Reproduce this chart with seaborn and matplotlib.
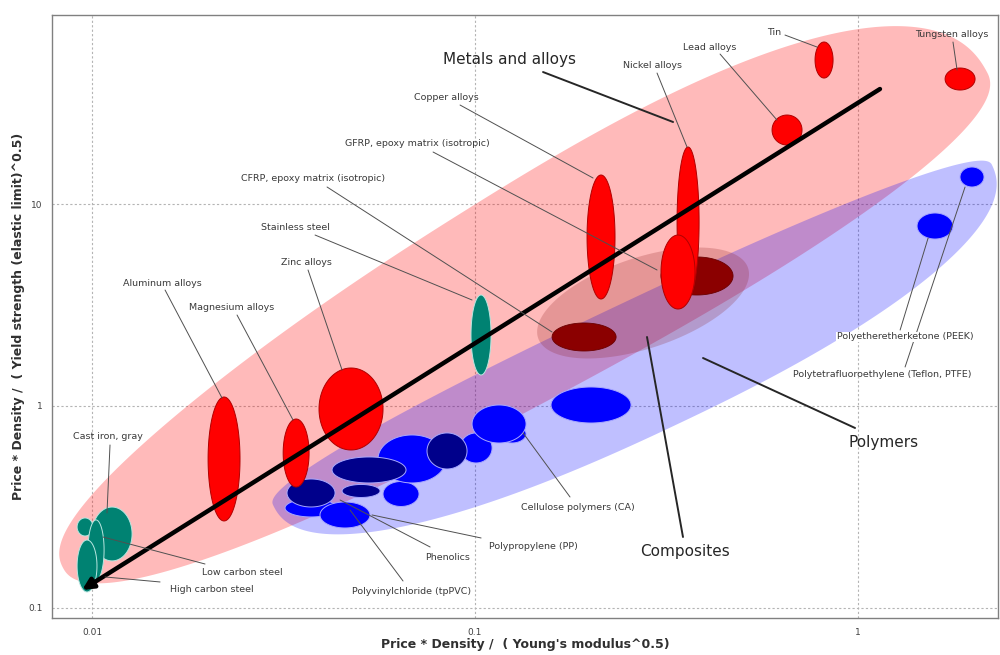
import numpy as np
import matplotlib
matplotlib.use("Agg")
import matplotlib.pyplot as plt
from matplotlib.ticker import LogLocator, FuncFormatter, NullFormatter
import seaborn as sns

# ---------------------------------------------------------------------------
# Property ranges, x = Price*Density/E^0.5, y = Price*Density/sigma_y^0.5
# each bubble spans [lo, hi] on both axes
# ---------------------------------------------------------------------------
nonferrous_names = ["Aluminum alloys", "Magnesium alloys", "Zinc alloys", "Copper alloys",
                    "Nickel alloys", "Nickel alloys (cast)", "Lead alloys", "Tin", "Tungsten alloys"]
nonferrous_x_lo = [0.02009, 0.03155, 0.03914, 0.1961, 0.3369, 0.3059, 0.5964, 0.7723, 1.688]
nonferrous_x_hi = [0.02434, 0.03687, 0.05751, 0.2320, 0.3846, 0.3753, 0.7141, 0.8606, 2.021]
nonferrous_y_lo = [0.2696, 0.3972, 0.6056, 3.386, 3.464, 3.021, 19.59, 42.05, 36.68]
nonferrous_y_hi = [1.108, 0.8620, 1.542, 13.92, 19.15, 7.022, 27.58, 63.40, 47.13]

ferrous_names = ["Cast iron, gray", "Carbon steel", "Low carbon steel", "High carbon steel",
                 "Stainless steel"]
ferrous_x_lo = [0.01000, 0.00914, 0.00976, 0.00914, 0.0976]
ferrous_x_hi = [0.01272, 0.01006, 0.01075, 0.01030, 0.1101]
ferrous_y_lo = [0.171, 0.2272, 0.1377, 0.120, 1.424]
ferrous_y_hi = [0.316, 0.2790, 0.2728, 0.217, 3.544]

composite_names = ["CFRP, epoxy matrix (isotropic)", "GFRP, epoxy matrix (isotropic)"]
composite_x_lo = [0.1589, 0.3059]
composite_x_hi = [0.2335, 0.4717]
composite_y_lo = [1.872, 3.544]
composite_y_hi = [2.576, 5.467]

polymer_names = ["Polyvinylchloride (tpPVC)", "Phenolics", "Polypropylene (PP)", "Polymer d",
                 "Polymer f", "Polymer g", "Polymer e", "Polymer i", "Polymer h", "Polymer k",
                 "Cellulose polymers (CA)", "Polymer l",
                 "Polyetheretherketone (PEEK)", "Polytetrafluoroethylene (Teflon, PTFE)"]
polymer_dark = [False, True, False, True, False, False, True, False, True, False,
                False, False, False, False]
polymer_x_lo = [0.03191, 0.03229, 0.03937, 0.04496, 0.05751, 0.05580, 0.04233, 0.09138,
                0.07492, 0.1148, 0.09822, 0.1579, 1.426, 1.846]
polymer_x_hi = [0.04362, 0.04310, 0.05318, 0.05649, 0.07141, 0.08402, 0.06604, 0.1108,
                0.09531, 0.1359, 0.1359, 0.2555, 1.770, 2.133]
polymer_y_lo = [0.2822, 0.3162, 0.2489, 0.3524, 0.3180, 0.4158, 0.4158, 0.5222,
                0.4876, 0.6558, 0.6558, 0.8237, 6.709, 12.14]
polymer_y_hi = [0.3464, 0.4351, 0.3347, 0.4088, 0.4230, 0.7187, 0.5593, 0.7354,
                0.7354, 0.8051, 1.0115, 1.2418, 9.027, 15.25]

# family envelopes: end points of the long axis (data units)
metals_env_tips = [(0.00840, 0.1578), (2.171, 45.03)]
polymers_env_tips = [(0.02969, 0.3236), (2.238, 15.60)]
composites_env_tips = [(0.1461, 2.171), (0.5162, 4.823)]

# guideline arrow (tail, head)
guide_tail = (1.141, 37.10)
guide_head = (0.00942, 0.1228)

# annotations: text, text centre, leader start, leader end
labels = [
    ("Copper alloys", (0.08402, 33.86), (0.09138, 30.91), (0.2033, 13.45)),
    ("GFRP, epoxy matrix (isotropic)", (0.07056, 20.04), (0.07770, 18.09), (0.2987, 4.713)),
    ("CFRP, epoxy matrix (isotropic)", (0.03776, 13.45), (0.04108, 12.14), (0.1589, 2.324)),
    ("Stainless steel", (0.03388, 7.692), (0.03822, 7.022), (0.09822, 3.348)),
    ("Zinc alloys", (0.03620, 5.163), (0.03664, 4.713), (0.04496, 1.507)),
    ("Aluminum alloys", (0.01523, 4.063), (0.01551, 3.752), (0.02185, 1.095)),
    ("Magnesium alloys", (0.02321, 3.091), (0.02391, 2.821), (0.03348, 0.8526)),
    ("Nickel alloys", (0.2898, 48.76), (0.2987, 44.51), (0.3577, 19.15)),
    ("Lead alloys", (0.4107, 59.87), (0.4363, 55.27), (0.6143, 26.05)),
    ("Tin", (0.6034, 71.05), (0.6446, 68.65), (0.7816, 59.87)),
    ("Tungsten alloys", (1.760, 69.45), (1.770, 63.39), (1.814, 46.07)),
    ("Cast iron, gray", (0.01101, 0.7024), (0.01114, 0.6411), (0.01094, 0.2954)),
    ("Low carbon steel", (0.02464, 0.1490), (0.01972, 0.1651), (0.01068, 0.2246)),
    ("High carbon steel", (0.02057, 0.1228), (0.01505, 0.1345), (0.01081, 0.1424)),
    ("Cellulose polymers (CA)", (0.1858, 0.3126), (0.1770, 0.3544), (0.1335, 0.7354)),
    ("Polypropylene (PP)", (0.1417, 0.2004), (0.1037, 0.2221), (0.05383, 0.2887)),
    ("Phenolics", (0.08452, 0.1768), (0.07632, 0.2004), (0.04442, 0.3425)),
    ("Polyvinylchloride (tpPVC)", (0.06846, 0.1200), (0.06486, 0.1360), (0.04716, 0.3056)),
    ("Polytetrafluoroethylene (Teflon, PTFE)", (1.156, 1.424), (1.327, 1.560), (1.903, 12.14)),
    ("Polyetheretherketone (PEEK)", (1.327, 2.196), (1.288, 2.378), (1.524, 6.786)),
]
family_labels = [
    ("Metals and alloys", (0.1227, 52.2), (0.1505, 45.03), (0.3289, 25.47)),
    ("Composites", (0.3534, 0.1893), (0.3491, 0.2246), (0.2812, 2.196)),
    ("Polymers", (1.163, 0.6558), (0.9822, 0.7783), (0.3938, 1.728)),
]

# ---------------------------------------------------------------------------
sns.set_theme(style="white")
plt.rcParams["font.family"] = ["DejaVu Sans"]

fig = plt.figure(figsize=(10, 6.55), dpi=100)
ax = fig.add_subplot(111)
fig.subplots_adjust(left=0.052, right=0.998, bottom=0.0565, top=0.977)
ax.set_xscale("log")
ax.set_yscale("log")
ax.set_xlim(0.00786, 2.32)
ax.set_ylim(0.0892, 86.2)


def envelope(tips, up, down, skew, p, **kw):
    """Rounded envelope built along the line joining two tips (display space)."""
    T = ax.transData
    A, B = T.transform(tips[0]), T.transform(tips[1])
    C = (A + B) / 2
    U = (B - A) / 2
    a = np.hypot(*U)
    d = U / a
    n = np.array([-d[1], d[0]])
    t = np.linspace(0, 2 * np.pi, 500)
    c, s = np.cos(t), np.sin(t)
    cs = np.sign(c) * np.abs(c) ** (2 / p)
    ss = np.sign(s) * np.abs(s) ** (2 / p)
    w = np.where(ss >= 0, up * (1 + skew * cs), down) * a
    pts = C + np.outer(a * cs, d) + np.outer(w * ss, n)
    data = T.inverted().transform(pts)
    ax.fill(data[:, 0], data[:, 1], **kw)


def bubbles(x_lo, x_hi, y_lo, y_hi, faces, edge, lw, z):
    t = np.linspace(0, 2 * np.pi, 160)
    for xl, xh, yl, yh, fc in zip(x_lo, x_hi, y_lo, y_hi, faces):
        cx, hx = (np.log10(xl) + np.log10(xh)) / 2, (np.log10(xh) - np.log10(xl)) / 2
        cy, hy = (np.log10(yl) + np.log10(yh)) / 2, (np.log10(yh) - np.log10(yl)) / 2
        ax.fill(10 ** (cx + hx * np.cos(t)), 10 ** (cy + hy * np.sin(t)),
                fc=fc, ec=edge, lw=lw, zorder=z)


# envelopes
envelope(metals_env_tips, 0.238, 0.156, 0.28, 2.3,
         fc="#ff0000", alpha=0.27, ec="none", zorder=1)
envelope(polymers_env_tips, 0.083, 0.251, 0.0, 2.3,
         fc="#0000ff", alpha=0.25, ec="none", zorder=2)
envelope(composites_env_tips, 0.41, 0.41, 0.0, 2.0,
         fc="#8b1a1a", alpha=0.22, ec="none", zorder=3)

# bubbles
bubbles(polymer_x_lo, polymer_x_hi, polymer_y_lo, polymer_y_hi,
        ["#00008b" if dk else "#0000ff" for dk in polymer_dark], "#a8a8ff", 0.7, 4)
bubbles(composite_x_lo, composite_x_hi, composite_y_lo, composite_y_hi,
        ["#8b0000"] * len(composite_names), "#6a0000", 0.6, 4)
bubbles(ferrous_x_lo, ferrous_x_hi, ferrous_y_lo, ferrous_y_hi,
        ["#008272"] * len(ferrous_names), "#b8e6e0", 0.7, 4)
bubbles(nonferrous_x_lo, nonferrous_x_hi, nonferrous_y_lo, nonferrous_y_hi,
        ["#ff0000"] * len(nonferrous_names), "#b00000", 0.7, 4)

# guideline
ax.annotate("", xy=guide_head, xytext=guide_tail,
            arrowprops=dict(arrowstyle="-|>", lw=3.2, color="black",
                            mutation_scale=16, shrinkA=0, shrinkB=0), zorder=5)

# labels with leaders
for text, pos, start, end in labels:
    ax.plot([start[0], end[0]], [start[1], end[1]], color="#505050", lw=0.7, zorder=6)
    box = None
    if "PEEK" in text:
        box = dict(fc="white", ec="none", pad=0.5)
    ax.text(pos[0], pos[1], text, fontsize=6.8, color="#3a3a3a", ha="center", va="center",
            zorder=7, bbox=box)
for text, pos, start, end in family_labels:
    ax.plot([start[0], end[0]], [start[1], end[1]], color="#262626", lw=1.4, zorder=6)
    ax.text(pos[0], pos[1], text, fontsize=11, color="#262626", ha="center", va="center",
            zorder=7)

# axes styling
fmt = FuncFormatter(lambda v, _: f"{v:g}")
for axis in (ax.xaxis, ax.yaxis):
    axis.set_major_locator(LogLocator(base=10))
    axis.set_minor_locator(LogLocator(base=10, subs=np.arange(2, 10)))
    axis.set_major_formatter(fmt)
    axis.set_minor_formatter(NullFormatter())
ax.tick_params(which="major", direction="out", length=5, width=0.8, color="#707070",
               labelsize=6.5, labelcolor="#404040", pad=2)
ax.tick_params(which="minor", direction="in", length=2.5, width=0.6, color="#909090")
ax.grid(True, which="major", ls=(0, (2, 2)), color="#b4b4b4", lw=0.8)
ax.set_axisbelow(True)
for sp in ax.spines.values():
    sp.set_color("#808080")
    sp.set_linewidth(1.0)

ax.set_xlabel("Price * Density /  ( Young's modulus^0.5)", fontsize=9, fontweight="bold",
              color="#303030")
ax.set_ylabel("Price * Density /  ( Yield strength (elastic limit)^0.5)", fontsize=9,
              fontweight="bold", color="#303030")
ax.xaxis.set_label_coords(0.5, -0.033)
ax.yaxis.set_label_coords(-0.029, 0.5)

fig.savefig("out.png", dpi=100)
